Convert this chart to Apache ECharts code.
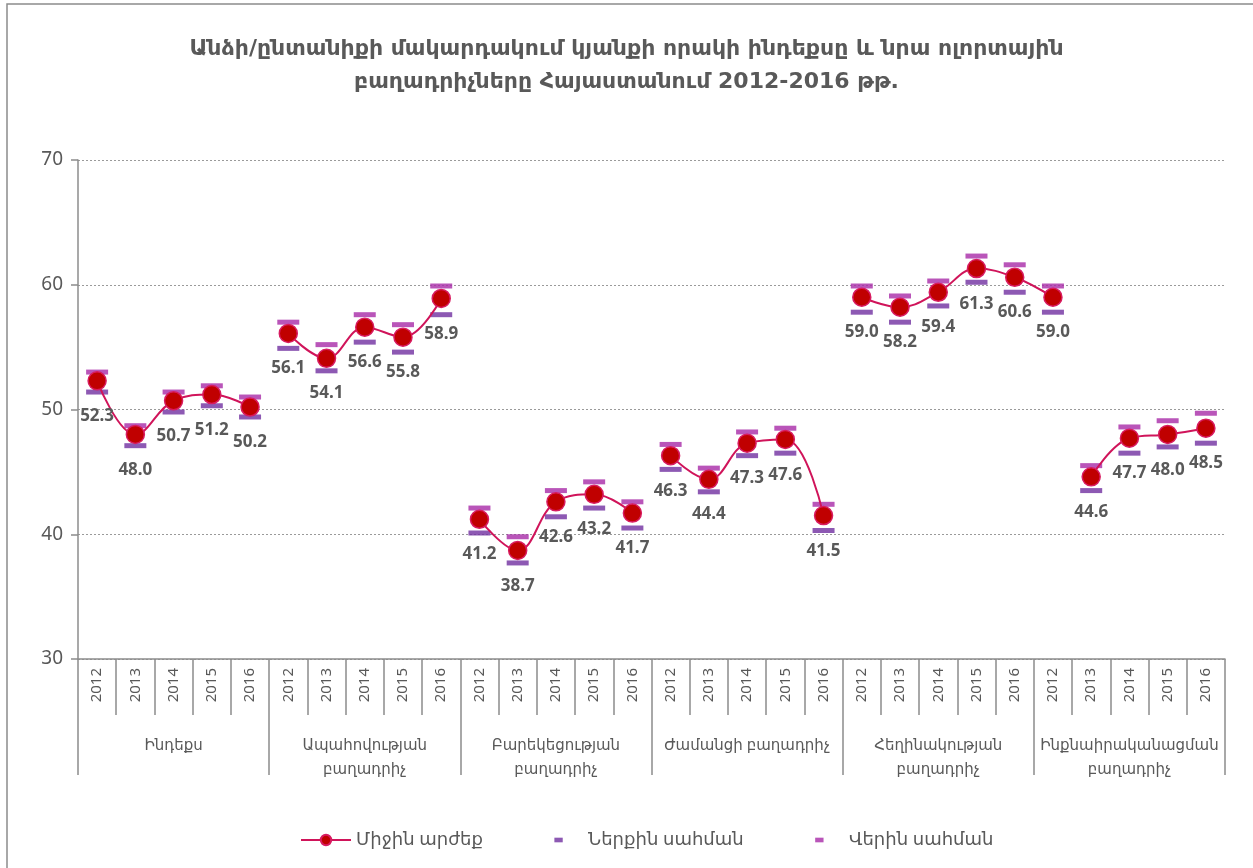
<!DOCTYPE html>
<html>
<head>
<meta charset="utf-8">
<script src="https://cdn.jsdelivr.net/npm/echarts@6/dist/echarts.min.js"></script>
<style>
  html, body { margin: 0; padding: 0; background: #fff; }
  #chart { width: 1253px; height: 868px; }
</style>
</head>
<body>
<div id="chart"></div>
<script>
// categories
const years = ['2012', '2013', '2014', '2015', '2016']
const groupNames = ['Ինդեքս', 'Ապահովության\nբաղադրիչ', 'Բարեկեցության\nբաղադրիչ', 'Ժամանցի բաղադրիչ', 'Հեղինակության\nբաղադրիչ', 'Ինքնաիրականացման\nբաղադրիչ']
const yTicks = [30, 40, 50, 60, 70]

// values (30 points, 6 groups x 5 years)
const meanValues = [52.3, 48.0, 50.7, 51.2, 50.2, 56.1, 54.1, 56.6, 55.8, 58.9, 41.2, 38.7, 42.6, 43.2, 41.7, 46.3, 44.4, 47.3, 47.6, 41.5, 59.0, 58.2, 59.4, 61.3, 60.6, 59.0, 44.6, 47.7, 48.0, 48.5]
const lowerValues = [51.4, 47.1, 49.8, 50.3, 49.4, 54.9, 53.1, 55.4, 54.6, 57.6, 40.1, 37.7, 41.4, 42.1, 40.5, 45.2, 43.4, 46.3, 46.5, 40.3, 57.8, 57.0, 58.3, 60.2, 59.4, 57.8, 43.5, 46.5, 47.0, 47.3]
const upperValues = [53.0, 48.7, 51.4, 51.9, 51.0, 57.0, 55.2, 57.6, 56.8, 59.9, 42.1, 39.8, 43.5, 44.2, 42.6, 47.2, 45.3, 48.2, 48.5, 42.4, 59.9, 59.1, 60.3, 62.3, 61.6, 59.9, 45.5, 48.6, 49.1, 49.7]
// which points the line joins (first and last index of each piece)
const segments = [[0, 4], [5, 9], [10, 14], [15, 19], [20, 25], [26, 29]]

const seriesNames = ['Միջին արժեք', 'Ներքին սահման', 'Վերին սահման']

const txt = '#595959'
const axisGray = '#8c8c8c'
const font = "'Noto Sans', 'DejaVu Sans', sans-serif"

const chart = echarts.init(document.getElementById('chart'))

const yearCats = groupNames.flatMap(() => years)

const meanSeries = segments.map(([a, b]) => ({
  name: seriesNames[0],
  type: 'line',
  smooth: 0.4,
  data: meanValues.map((v, i) => (i >= a && i <= b ? v : null)),
  symbol: 'circle',
  symbolSize: 18,
  z: 5,
  lineStyle: { color: '#d0145a', width: 2 },
  itemStyle: { color: '#c00000', borderColor: '#d81b60', borderWidth: 1.5 },
  label: {
    show: true,
    position: 'bottom',
    distance: 17,
    color: txt,
    fontFamily: font,
    fontWeight: 'bold',
    fontSize: 17,
    formatter: p => (p.value == null ? '' : p.value.toFixed(1))
  }
}))

const option = {
  animation: false,
  backgroundColor: '#fff',
  textStyle: { fontFamily: font },
  title: {
    text: 'Անձի/ընտանիքի մակարդակում կյանքի որակի ինդեքսը և նրա ոլորտային\nբաղադրիչները Հայաստանում 2012-2016 թթ.',
    left: 'center',
    top: 28,
    textStyle: {
      color: txt,
      fontFamily: "'DejaVu Sans', sans-serif",
      fontWeight: 'bold',
      fontSize: 22,
      lineHeight: 33
    }
  },
  graphic: [{
    type: 'rect',
    shape: { x: 7, y: 4, width: 1270, height: 890 },
    style: { fill: 'none', stroke: axisGray, lineWidth: 1.5 },
    silent: true
  }],
  legend: {
    left: 295,
    top: 826,
    itemGap: 52,
    itemWidth: 50,
    itemHeight: 13,
    textStyle: { color: txt, fontSize: 18, fontFamily: font },
    data: [
      { name: seriesNames[0] },
      { name: seriesNames[1], icon: 'path://M0,0M50,14M21,4.5h9v5h-9z' },
      { name: seriesNames[2], icon: 'path://M0,0M50,14M21,4.5h9v5h-9z' }
    ]
  },
  grid: { left: 78, right: 28, top: 160, bottom: 209 },
  xAxis: [
    {
      type: 'category',
      data: yearCats,
      position: 'bottom',
      axisLine: { lineStyle: { color: axisGray, width: 1.5 } },
      axisTick: { show: true, interval: 0, length: 56, lineStyle: { color: axisGray, width: 1.5 } },
      axisLabel: { interval: 0, rotate: 90, margin: 9, color: txt, fontSize: 15 }
    },
    {
      type: 'category',
      data: groupNames,
      position: 'bottom',
      axisLine: { show: false },
      axisTick: { show: true, interval: 0, length: 116, lineStyle: { color: axisGray, width: 1.5 } },
      axisLabel: { interval: 0, margin: 75, color: txt, fontSize: 15, lineHeight: 24 }
    }
  ],
  yAxis: {
    type: 'value',
    min: yTicks[0],
    max: yTicks[yTicks.length - 1],
    interval: 10,
    axisLine: { show: true, lineStyle: { color: axisGray, width: 1.5 } },
    axisTick: { show: true, length: 7, lineStyle: { color: axisGray, width: 1.5 } },
    axisLabel: { margin: 15, color: txt, fontSize: 19 },
    splitLine: { lineStyle: { color: '#9a9a9a', type: [2, 2], width: 1 } }
  },
  series: [
    ...meanSeries,
    {
      name: seriesNames[1],
      type: 'scatter',
      data: lowerValues,
      symbol: 'rect',
      symbolSize: [22, 5],
      z: 3,
      itemStyle: { color: '#7030a0' }
    },
    {
      name: seriesNames[2],
      type: 'scatter',
      data: upperValues,
      symbol: 'rect',
      symbolSize: [22, 5],
      z: 3,
      itemStyle: { color: '#a82aa8' }
    }
  ]
}

chart.setOption(option)
</script>
</body>
</html>
